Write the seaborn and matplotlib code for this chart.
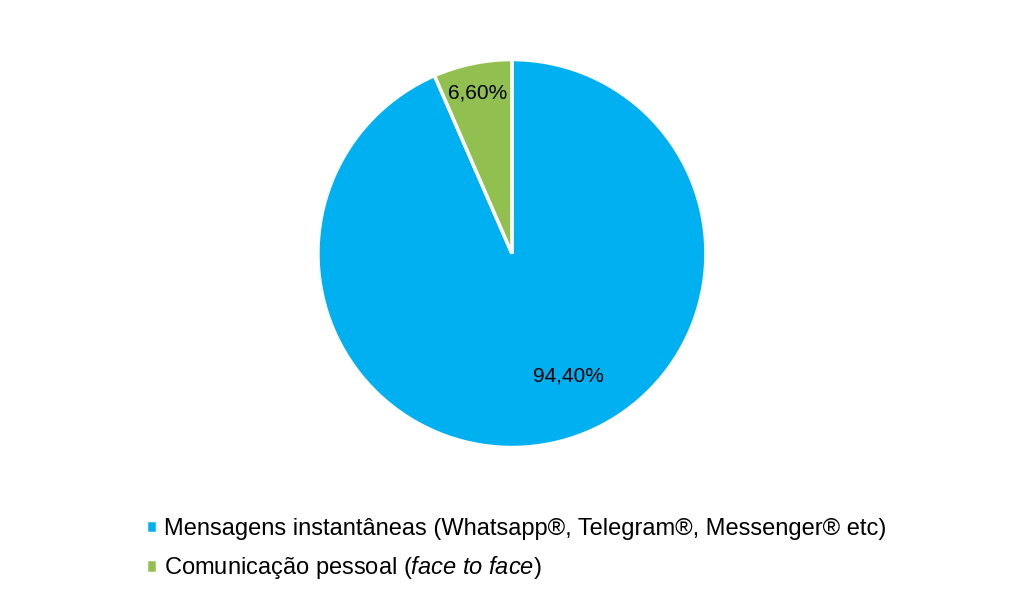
import matplotlib
matplotlib.use("Agg")
import matplotlib.pyplot as plt
import seaborn as sns
import numpy as np

categories = ["Mensagens instantâneas (Whatsapp®, Telegram®, Messenger® etc)",
              r"Comunicação pessoal ($\mathit{face\ to\ face}$)"]
values = [94.4, 6.6]
value_labels = ["94,40%", "6,60%"]
colors = ["#00B0F0", "#92C050"]

sns.set_theme(style="white")
plt.rcParams["font.family"] = ["Liberation Sans", "DejaVu Sans"]
plt.rcParams["mathtext.fontset"] = "custom"
plt.rcParams["mathtext.rm"] = "Liberation Sans"
plt.rcParams["mathtext.it"] = "Liberation Sans:italic"

fig = plt.figure(figsize=(10.24, 5.97), dpi=100)
ax = fig.add_axes([0.3105, 0.2479, 0.3789, 0.6549])

wedges, texts = ax.pie(values, colors=sns.color_palette(colors), startangle=90,
                       counterclock=False, radius=1,
                       wedgeprops=dict(edgecolor="white", linewidth=2.5))
ax.set_aspect("equal")
ax.set_xlim(-1.0, 1.0)
ax.set_ylim(-1.0, 1.0)

# label positions (Excel "best fit")
label_pos = [(0.289, -0.629), (-0.177, 0.828)]
for lab, (x, y) in zip(value_labels, label_pos):
    ax.text(x, y, lab, ha="center", va="center", fontsize=15, color="black")

leg = fig.legend(wedges, categories, loc="upper left", bbox_to_anchor=(0.133, 0.148),
                 bbox_transform=fig.transFigure, fontsize=17, frameon=False,
                 handlelength=0.5, handleheight=0.5, handletextpad=0.28,
                 labelspacing=0.6, borderaxespad=0)
for t in leg.get_texts():
    t.set_color("black")

fig.savefig("out.png", dpi=100)
